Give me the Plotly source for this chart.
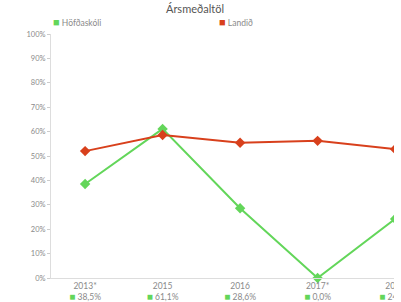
import plotly.graph_objects as go

categories = ["2013*", "2015", "2016", "2017*", "2018"]
hofdaskoli = [38.5, 61.1, 28.6, 0.0, 24.2]
landid = [52.0, 58.6, 55.4, 56.2, 52.8]
value_labels = ["38,5%", "61,1%", "28,6%", "0,0%", "24,2%"]
y_ticks = [0, 10, 20, 30, 40, 50, 60, 70, 80, 90, 100]
series_names = ["Höfðaskóli", "Landið"]

GREEN = "#63d65a"
RED = "#d8401c"
GRAY = "#8a8a8a"

W = 401
VISIBLE_W = 394  # chart content is cut off at this pixel column
PX_PER_CAT = 77.5
plot_w = W - 51
ticktext = [f"{c}<br><span style='color:{GREEN};font-size:10px'>■</span> {v}" for c, v in zip(categories, value_labels)]

fig = go.Figure()
fig.add_trace(go.Scatter(x=list(range(len(categories))), y=hofdaskoli, mode="lines+markers", name=series_names[0],
                         line=dict(color=GREEN, width=2), marker=dict(symbol="diamond", size=8, color=GREEN),
                         cliponaxis=False, showlegend=False))
fig.add_trace(go.Scatter(x=list(range(len(categories))), y=landid, mode="lines+markers", name=series_names[1],
                         line=dict(color=RED, width=2), marker=dict(symbol="diamond", size=8, color=RED),
                         cliponaxis=False, showlegend=False))

for name, color, xpx in [(series_names[0], GREEN, 51), (series_names[1], RED, 217)]:
    fig.add_annotation(text=f"<span style='color:{color};font-size:11px'>■</span> {name}", xref="paper", yref="paper",
                       x=(xpx - 51) / plot_w, y=1 + 12 / 244, xanchor="left", yanchor="middle", showarrow=False,
                       font=dict(size=8.5, color=GRAY, family="Lato"))

fig.update_layout(
    width=W, height=302,
    margin=dict(l=51, r=0, t=34, b=24),
    paper_bgcolor="white", plot_bgcolor="white",
    font=dict(family="Lato", color=GRAY, size=8),
    showlegend=False,
    title=dict(text="Ársmeðaltöl", x=195 / W, xanchor="center", y=1 - 9 / 302, yanchor="middle",
               font=dict(size=11, color="#555555", family="Lato")),
    xaxis=dict(range=[-0.44, -0.44 + plot_w / PX_PER_CAT], tickmode="array", tickvals=list(range(len(categories))),
               ticktext=ticktext, showgrid=False, showline=True, linecolor="#dddddd", linewidth=1,
               ticks="", zeroline=False, tickfont=dict(size=8.5, color=GRAY), automargin=False,
               ticklabeloverflow="allow"),
    yaxis=dict(range=[0, 100], tickmode="array", tickvals=y_ticks, ticktext=[f"{t}%" for t in y_ticks],
               showgrid=False, showline=True, linecolor="#dddddd", linewidth=1, ticks="outside",
               ticklen=3, tickcolor="#cccccc", zeroline=False, tickfont=dict(size=7.5, color=GRAY),
               automargin=False),
)
post = (
    "document.body.style.margin='0';document.body.style.overflow='hidden';"
    "var st=document.createElement('style');"
    f"st.textContent='.svg-container{{clip-path:inset(0px {W - VISIBLE_W}px 0px 0px);}}';"
    "document.head.appendChild(st);"
    "var gd=document.getElementById('{plot_id}');"
    f"if(gd){{gd.style.clipPath='inset(0px {W - VISIBLE_W}px 0px 0px)';}}"
)
fig.write_html("out.html", config={"displayModeBar": False}, post_script=post)
